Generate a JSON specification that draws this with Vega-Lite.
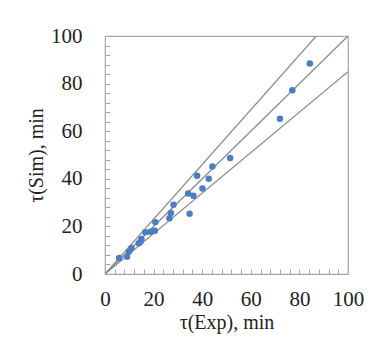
{
  "$schema": "https://vega.github.io/schema/vega-lite/v6.json",
  "autosize": "none",
  "width": 243,
  "height": 238,
  "padding": {"left": 105, "top": 36, "right": 25, "bottom": 69},
  "background": "white",
  "config": {
    "view": {"stroke": "#a6a6a6", "strokeWidth": 1.2},
    "font": "Liberation Serif",
    "axis": {
      "domain": false,
      "grid": false,
      "labelFont": "Liberation Serif",
      "titleFont": "Liberation Serif",
      "labelFontSize": 21,
      "titleFontSize": 20,
      "titleFontWeight": "normal",
      "labelColor": "#222222",
      "titleColor": "#222222",
      "tickColor": "#a6a6a6",
      "tickSize": -5,
      "labelFlush": false
    }
  },
  "datasets": {
    "points": [
      {"exp": 84.3, "sim": 88.4},
      {"exp": 77.1, "sim": 77.2},
      {"exp": 72.0, "sim": 65.2},
      {"exp": 51.5, "sim": 48.7},
      {"exp": 44.2, "sim": 45.2},
      {"exp": 37.9, "sim": 41.3},
      {"exp": 42.7, "sim": 40.0},
      {"exp": 40.1, "sim": 35.9},
      {"exp": 34.2, "sim": 33.8},
      {"exp": 36.4, "sim": 32.9},
      {"exp": 34.8, "sim": 25.3},
      {"exp": 28.2, "sim": 29.1},
      {"exp": 27.1, "sim": 25.6},
      {"exp": 26.5, "sim": 23.4},
      {"exp": 20.7, "sim": 21.8},
      {"exp": 20.5, "sim": 18.2},
      {"exp": 18.7, "sim": 17.8},
      {"exp": 16.6, "sim": 17.5},
      {"exp": 15.0, "sim": 14.7},
      {"exp": 14.6, "sim": 13.6},
      {"exp": 13.9, "sim": 12.9},
      {"exp": 10.9, "sim": 10.9},
      {"exp": 9.9, "sim": 9.5},
      {"exp": 9.1, "sim": 7.3},
      {"exp": 5.8, "sim": 6.7}
    ],
    "lines": [
      {"line": "upper", "exp": 0, "sim": 0},
      {"line": "upper", "exp": 100, "sim": 115},
      {"line": "equal", "exp": 0, "sim": 0},
      {"line": "equal", "exp": 100, "sim": 100},
      {"line": "lower", "exp": 0, "sim": 0},
      {"line": "lower", "exp": 100, "sim": 85}
    ]
  },
  "encoding": {
    "x": {
      "field": "exp",
      "type": "quantitative",
      "scale": {"domain": [0, 100], "nice": false},
      "axis": {
        "title": "τ(Exp), min",
        "values": [0,4,8,12,16,20,24,28,32,36,40,44,48,52,56,60,64,68,72,76,80,84,88,92,96,100],
        "labelExpr": "datum.value % 20 === 0 ? datum.label : ''",
        "labelPadding": 19,
        "titlePadding": 3
      }
    },
    "y": {
      "field": "sim",
      "type": "quantitative",
      "scale": {"domain": [0, 100], "nice": false},
      "axis": {
        "title": "τ(Sim), min",
        "values": [0,4,8,12,16,20,24,28,32,36,40,44,48,52,56,60,64,68,72,76,80,84,88,92,96,100],
        "labelExpr": "datum.value % 20 === 0 ? datum.label : ''",
        "labelPadding": 28,
        "titlePadding": 4
      }
    }
  },
  "layer": [
    {
      "data": {"name": "lines"},
      "mark": {"type": "line", "color": "#8c8c8c", "strokeWidth": 1.3, "clip": true},
      "encoding": {"detail": {"field": "line"}}
    },
    {
      "data": {"name": "points"},
      "mark": {"type": "circle", "color": "#4a7dc2", "size": 42, "opacity": 1}
    }
  ]
}
